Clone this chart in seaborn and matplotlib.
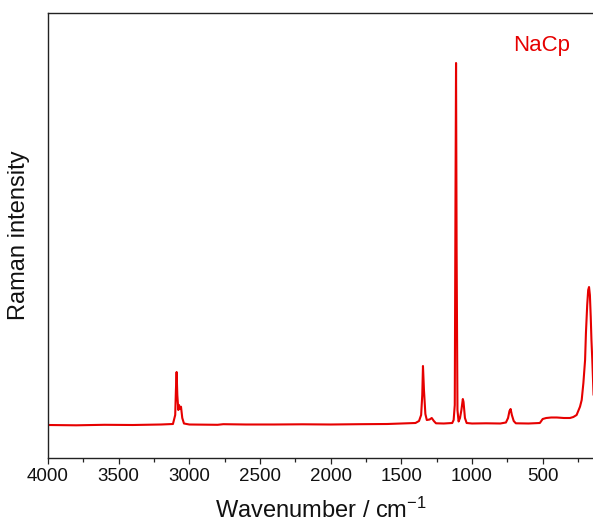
import matplotlib
matplotlib.use("Agg")
import matplotlib.pyplot as plt
import seaborn as sns
import pandas as pd
from matplotlib.ticker import MultipleLocator

# Raman spectrum of NaCp (arbitrary units)
wavenumber = [4000, 3800, 3600, 3400, 3200, 3116, 3100, 3095, 3090, 3085, 3078, 3073,
              3066, 3059, 3050, 3038, 3000, 2800, 2760, 2600, 2400, 2200, 2000, 1800,
              1600, 1500, 1400, 1375, 1360, 1352, 1347, 1340, 1330, 1320, 1300, 1285,
              1270, 1255, 1200, 1140, 1130, 1122, 1117, 1113, 1109, 1103, 1095, 1085,
              1075, 1065, 1060, 1050, 1038, 1000, 900, 800, 760, 745, 735, 727, 718,
              705, 690, 600, 520, 500, 475, 440, 400, 350, 307, 283, 260, 236, 224,
              212, 200, 194, 185, 178, 172, 166, 160, 155, 149, 140]
intensity = [33.0, 32.7, 33.2, 33.0, 33.5, 34.0, 43.0, 68.0, 86.0, 63.0, 48.0, 53.0,
             49.0, 51.3, 40.0, 34.5, 33.5, 33.2, 33.8, 33.5, 33.5, 33.7, 33.5, 33.8,
             34.0, 34.5, 35.0, 37.0, 43.0, 63.0, 92.0, 68.0, 44.0, 38.0, 38.5, 40.0,
             37.0, 34.7, 34.5, 35.0, 38.0, 53.0, 258.0, 395.0, 208.0, 48.0, 36.5, 40.0,
             48.0, 59.0, 56.0, 40.0, 35.0, 34.5, 34.7, 34.5, 35.5, 40.0, 47.0, 49.0, 43.0,
             37.0, 34.7, 34.5, 35.0, 39.0, 40.0, 40.5, 40.5, 40.0, 40.0, 41.0, 43.0, 51.3, 58.0,
             75.0, 98.0, 125.0, 153.0, 168.0, 171.0, 163.0, 141.0, 118.0, 98.0, 63.0]
series_label = "NaCp"
major_ticks = [4000, 3500, 3000, 2500, 2000, 1500, 1000, 500]

df = pd.DataFrame({"Wavenumber": wavenumber, "Intensity": intensity})

sns.set_theme(style="white")
plt.rcParams["font.family"] = ["Liberation Sans", "DejaVu Sans"]
plt.rcParams["mathtext.default"] = "regular"

fig = plt.figure(figsize=(5.93, 5.24), dpi=100)
ax = fig.add_axes([48 / 593, 66 / 524, 1.0 - 48 / 593, 445 / 524])

sns.lineplot(data=df, x="Wavenumber", y="Intensity", ax=ax, color="#e60000",
             linewidth=1.5, estimator=None, sort=False)

ax.set_xlim(4000, 144)
ax.set_ylim(0, 445)
ax.set_xticks(major_ticks)
ax.set_xticklabels([str(t) for t in major_ticks], fontsize=13.5, color="#111111")
ax.xaxis.set_minor_locator(MultipleLocator(250))
ax.set_yticks([])
ax.tick_params(axis="x", which="major", direction="out", length=4.5, width=0.9,
               bottom=True, color="#222222", pad=3)
ax.tick_params(axis="x", which="minor", direction="out", length=3, width=0.9,
               bottom=True, color="#222222")

for side in ["left", "top", "bottom"]:
    ax.spines[side].set_visible(True)
    ax.spines[side].set_color("#222222")
    ax.spines[side].set_linewidth(1.0)
ax.spines["right"].set_visible(False)

ax.set_xlabel("Wavenumber / cm$^{-1}$", fontsize=17, labelpad=9, color="#111111")
ax.set_ylabel("Raman intensity", fontsize=17, labelpad=13, color="#111111")

ax.text(0.906, 0.928, series_label, transform=ax.transAxes, color="#e60000",
        fontsize=16, ha="center", va="center")

fig.savefig("out.png", dpi=100, facecolor="white")
